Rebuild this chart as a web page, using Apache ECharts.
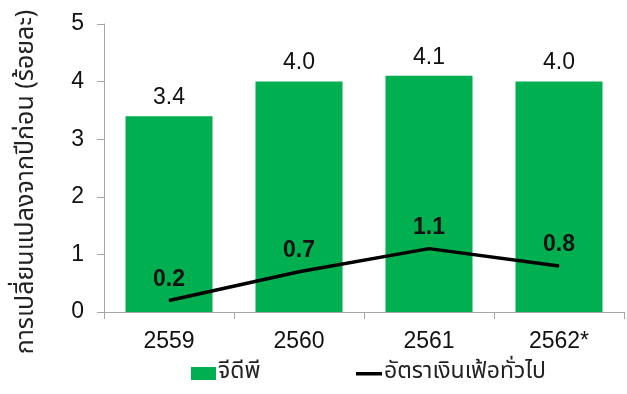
<!DOCTYPE html>
<html>
<head>
<meta charset="utf-8">
<script src="https://cdn.jsdelivr.net/npm/echarts@6/dist/echarts.min.js"></script>
<style>html,body{margin:0;padding:0;background:#fff}#c{width:627px;height:394px}</style>
</head>
<body>
<div id="c"></div>
<script>
const categories = ['2559', '2560', '2561', '2562*'];
const gdpValues = [3.4, 4.0, 4.1, 4.0];
const inflationValues = [0.2, 0.7, 1.1, 0.8];
const yTicks = [0, 1, 2, 3, 4, 5];
const gdpName = 'จีดีพี';
const inflationName = 'อัตราเงินเฟ้อทั่วไป';
const yAxisName = 'การเปลี่ยนแปลงจากปีก่อน (ร้อยละ)';

const latin = "'Liberation Sans', Arial, sans-serif";
const thai = "'Noto Sans Thai', Loma, Garuda, sans-serif";
const chart = echarts.init(document.getElementById('c'));
chart.setOption({
  animation: false,
  grid: { left: 104, right: 3, top: 24, bottom: 82 },
  legend: [
    { data: [gdpName], left: 191, top: 362, padding: 0, itemWidth: 25, itemHeight: 13, itemGap: 2,
      icon: 'rect', textStyle: { fontFamily: thai, fontSize: 23, color: '#222', padding: [0,0,0,-3] } },
    { data: [inflationName], left: 356, top: 362, padding: 0, itemWidth: 26, itemHeight: 13, itemGap: 2,
      icon: 'path://M0,0L0,0M0,5L26,5L26,8.5L0,8.5ZM0,13L0,13',
      itemStyle: { color: '#000' },
      textStyle: { fontFamily: thai, fontSize: 23, color: '#222', padding: [0,0,0,-3] } }
  ],
  xAxis: {
    type: 'category', data: categories,
    axisLine: { lineStyle: { color: '#A6A6A6', width: 1 } },
    axisTick: { show: true, length: 7, lineStyle: { color: '#A6A6A6' } },
    axisLabel: { fontFamily: latin, fontSize: 23, color: '#111', margin: 18 }
  },
  yAxis: {
    type: 'value', min: 0, max: 5, interval: 1,
    name: yAxisName, nameLocation: 'middle', nameGap: 64, nameRotate: 90,
    nameTextStyle: { fontFamily: thai, fontSize: 25, color: '#222', padding: [0, 0, 0, -28] },
    axisLine: { show: true, lineStyle: { color: '#A6A6A6' } },
    axisTick: { show: true, length: 7, lineStyle: { color: '#A6A6A6' } },
    splitLine: { show: false },
    axisLabel: { fontFamily: latin, fontSize: 23, color: '#111', margin: 20,
      formatter: v => yTicks.includes(v) ? String(v) : '' }
  },
  series: [
    { name: gdpName, type: 'bar', data: gdpValues, barWidth: 87,
      itemStyle: { color: '#00B050' },
      label: { show: true, position: 'top', distance: 7, fontFamily: latin, fontSize: 23, color: '#111',
        formatter: p => p.value.toFixed(1) } },
    { name: inflationName, type: 'line', data: inflationValues, symbol: 'circle', symbolSize: 1,
      itemStyle: { color: '#000' },
      lineStyle: { color: '#000', width: 3.5 },
      label: { show: true, position: 'top', distance: 9, fontFamily: latin, fontSize: 23, fontWeight: 'bold', color: '#111',
        formatter: p => p.value.toFixed(1) } }
  ]
});
</script>
</body>
</html>
